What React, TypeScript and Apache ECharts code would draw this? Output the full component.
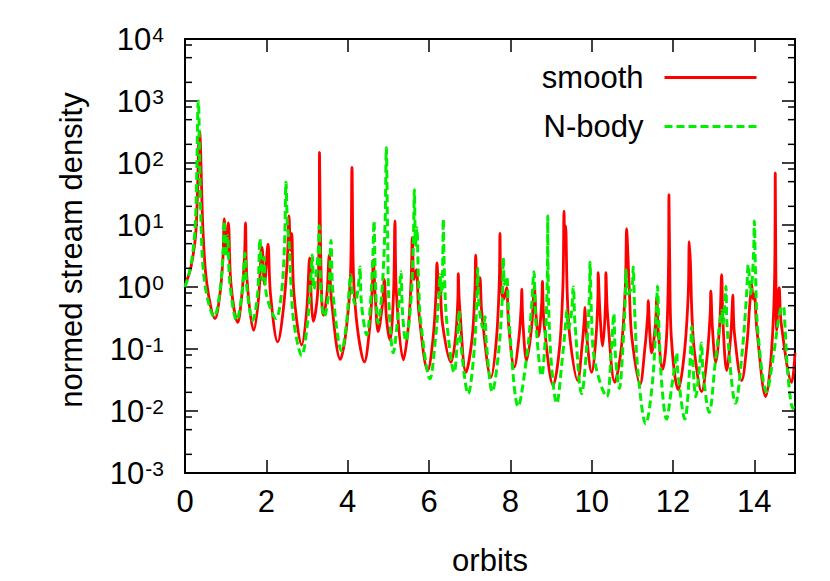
import React, { useEffect, useRef } from 'react';
import * as echarts from 'echarts';

// x range (orbits) and tick step
const xMin = 0;
const xMax = 15;
const xStep = 2;

// y range (log scale), decade exponents for tick labels
const yMin = 0.001;
const yMax = 10000;
const yTickExponents = ['-3', '-2', '-1', '0', '1', '2', '3', '4'];
const yMinorTicks = [
  0.002, 0.005, 0.008, 0.02, 0.05, 0.08, 0.2, 0.5, 0.8, 2, 5, 8, 20, 50, 80,
  200, 500, 800, 2000, 5000, 8000,
];

const seriesNames = ['smooth', 'N-body'];

// smooth model: [orbits, normed stream density]
const smoothPoints: number[][] = [
  [0, 1.06], [0.148, 2.12], [0.27, 8.1], [0.357, 327], [0.443, 8.1], [0.54, 1.1],
  [0.738, 0.31], [0.86, 0.77], [0.934, 3.04], [0.966, 12.5], [1.008, 3.65], [1.065, 10.8],
  [1.131, 1.1], [1.296, 0.268], [1.4, 0.77], [1.463, 3.0], [1.488, 10.8], [1.525, 1.32],
  [1.69, 0.2], [1.807, 0.64], [1.893, 4.4], [1.955, 1.1], [2.041, 4.9], [2.102, 0.77],
  [2.28, 0.13], [2.42, 0.45], [2.52, 3.04], [2.557, 14], [2.594, 3.9], [2.623, 7.3],
  [2.68, 0.77], [2.87, 0.116], [2.99, 0.4], [3.066, 2.94], [3.11, 0.53], [3.155, 0.28],
  [3.26, 0.77], [3.3, 9.7], [3.308, 148], [3.33, 6.76], [3.368, 0.53], [3.405, 0.35],
  [3.49, 0.77], [3.548, 3.27], [3.6, 0.64], [3.82, 0.068], [3.97, 0.216], [4.07, 1.58],
  [4.106, 85], [4.143, 1.58], [4.24, 0.216], [4.41, 0.062], [4.54, 0.216], [4.61, 1.1],
  [4.63, 2.7], [4.675, 0.77], [4.75, 0.19], [4.856, 0.53], [4.9, 1.32], [4.955, 0.31],
  [5.04, 0.14], [5.127, 0.77], [5.163, 11.6], [5.2, 0.77], [5.37, 0.067], [5.5, 0.26],
  [5.565, 1.58], [5.59, 6.3], [5.63, 1.32], [5.69, 1.9], [5.754, 0.37], [5.97, 0.045],
  [6.1, 0.15], [6.172, 0.77], [6.196, 2.45], [6.245, 0.77], [6.27, 1.1], [6.33, 0.26],
  [6.54, 0.061], [6.65, 0.15], [6.71, 0.64], [6.72, 1.64], [6.75, 0.53], [6.91, 0.042],
  [7.06, 0.15], [7.13, 0.92], [7.148, 3.27], [7.19, 0.77], [7.25, 1.42], [7.3, 0.37],
  [7.524, 0.035], [7.66, 0.15], [7.73, 1.32], [7.745, 7.3], [7.77, 1.1], [7.84, 0.64],
  [7.91, 0.98], [7.955, 0.26], [8.097, 0.051], [8.21, 0.15], [8.27, 0.53], [8.28, 0.92],
  [8.31, 0.26], [8.4, 0.065], [8.52, 0.216], [8.575, 0.77], [8.589, 1.03], [8.63, 0.37],
  [8.69, 0.16], [8.77, 0.53], [8.79, 1.23], [8.83, 0.26], [9.055, 0.026], [9.21, 0.105],
  [9.294, 1.1], [9.32, 16.7], [9.34, 4.7], [9.36, 9.7], [9.4, 0.77], [9.466, 0.15],
  [9.655, 0.031], [9.76, 0.105], [9.82, 0.31], [9.835, 0.47], [9.86, 0.216], [10.0, 0.042],
  [10.105, 0.15], [10.155, 0.77], [10.16, 1.7], [10.205, 0.37], [10.27, 0.112], [10.34, 0.53],
  [10.35, 1.7], [10.39, 0.37], [10.57, 0.029], [10.73, 0.105], [10.83, 1.1], [10.86, 8.7],
  [10.89, 3.5], [10.93, 0.77], [10.99, 0.15], [11.19, 0.027], [11.31, 0.105], [11.38, 0.37],
  [11.39, 0.6], [11.43, 0.18], [11.475, 0.087], [11.57, 0.26], [11.6, 0.68], [11.64, 0.18],
  [11.745, 0.047], [11.84, 0.15], [11.89, 2.28], [11.9, 31], [11.92, 2.28], [11.96, 0.15],
  [12.13, 0.022], [12.28, 0.087], [12.375, 0.77], [12.4, 5.4], [12.43, 2.28], [12.465, 0.37],
  [12.53, 0.087], [12.705, 0.0205], [12.835, 0.072], [12.915, 0.37], [12.93, 0.86], [12.97, 0.216],
  [13.05, 0.061], [13.15, 0.26], [13.196, 1.58], [13.23, 0.26], [13.32, 0.045], [13.415, 0.15],
  [13.46, 0.53], [13.47, 0.74], [13.51, 0.18], [13.69, 0.031], [13.82, 0.125], [13.88, 0.45],
  [13.91, 0.77], [13.935, 1.1], [13.97, 0.64], [14.0, 0.77], [14.06, 0.216], [14.28, 0.017],
  [14.42, 0.087], [14.5, 1.58], [14.515, 69], [14.53, 1.58], [14.55, 0.2], [14.59, 0.77],
  [14.61, 0.98], [14.66, 0.26], [14.92, 0.029], [15, 0.087],
];

// N-body simulation: [orbits, normed stream density]
const nbodyPoints: number[][] = [
  [0, 1.0], [0.148, 2.28], [0.258, 11.6], [0.327, 1000], [0.393, 11.6], [0.49, 1.1],
  [0.72, 0.33], [0.85, 0.77], [0.934, 3.27], [0.966, 11.6], [1.008, 3.04], [1.045, 6.76],
  [1.106, 1.1], [1.27, 0.29], [1.4, 0.77], [1.475, 3.5], [1.525, 0.92], [1.665, 0.29],
  [1.785, 0.77], [1.844, 6.0], [1.893, 1.3], [1.942, 3.04], [2.0, 0.77], [2.24, 0.31],
  [2.37, 0.77], [2.447, 4.7], [2.483, 49], [2.52, 9.7], [2.557, 5.6], [2.606, 1.1],
  [2.68, 0.26], [2.87, 0.078], [3.01, 0.26], [3.1, 1.58], [3.13, 3.27], [3.17, 0.92],
  [3.27, 3.27], [3.3, 9.7], [3.34, 0.92], [3.425, 0.33], [3.53, 0.77], [3.59, 5.6],
  [3.64, 0.77], [3.853, 0.093], [3.97, 0.26], [4.045, 1.1], [4.07, 1.58], [4.12, 0.77],
  [4.18, 0.53], [4.28, 1.32], [4.303, 2.1], [4.34, 0.53], [4.47, 0.168], [4.56, 0.53],
  [4.62, 3.27], [4.647, 11.6], [4.685, 1.1], [4.75, 0.26], [4.84, 0.77], [4.918, 9.7],
  [4.95, 177], [4.98, 9.7], [5.016, 0.53], [5.12, 0.087], [5.24, 0.37], [5.31, 1.77],
  [5.35, 0.37], [5.43, 0.134], [5.55, 0.53], [5.614, 4.7], [5.64, 37], [5.67, 4.7],
  [5.7, 9.0], [5.745, 1.1], [5.8, 0.26], [6.024, 0.033], [6.16, 0.15], [6.245, 0.77],
  [6.27, 1.58], [6.31, 0.77], [6.34, 3.27], [6.35, 12.5], [6.38, 1.58], [6.44, 0.26],
  [6.62, 0.042], [6.7, 0.15], [6.74, 0.42], [6.77, 0.15], [6.966, 0.019], [7.106, 0.087],
  [7.18, 0.77], [7.197, 2.0], [7.23, 0.53], [7.33, 0.216], [7.376, 0.33], [7.41, 0.125],
  [7.556, 0.0205], [7.71, 0.087], [7.807, 0.77], [7.826, 2.94], [7.86, 1.1], [7.91, 1.47],
  [7.97, 0.26], [8.195, 0.0118], [8.385, 0.061], [8.51, 0.37], [8.58, 1.77], [8.63, 0.26],
  [8.77, 0.037], [8.86, 0.15], [8.91, 1.58], [8.92, 14], [8.93, 1.58], [8.99, 0.087],
  [9.14, 0.0133], [9.28, 0.072], [9.37, 0.31], [9.385, 0.42], [9.43, 0.216], [9.5, 0.37],
  [9.55, 1.0], [9.59, 0.26], [9.754, 0.019], [9.885, 0.125], [9.945, 0.77], [9.96, 2.5],
  [9.995, 0.37], [10.08, 0.061], [10.37, 0.017], [10.48, 0.087], [10.545, 0.37], [10.58, 0.087],
  [10.68, 0.023], [10.78, 0.15], [10.83, 0.77], [10.84, 1.9], [10.9, 0.77], [11.0, 1.1],
  [11.02, 2.1], [11.06, 0.37], [11.14, 0.042], [11.33, 0.0062], [11.495, 0.029], [11.59, 0.37],
  [11.62, 1.03], [11.65, 0.26], [11.72, 0.029], [11.84, 0.0074], [11.97, 0.025], [12.07, 0.072],
  [12.09, 0.087], [12.12, 0.042], [12.29, 0.0074], [12.42, 0.061], [12.46, 0.23], [12.49, 0.061],
  [12.56, 0.017], [12.66, 0.061], [12.7, 0.125], [12.74, 0.042], [12.89, 0.0095], [13.04, 0.061],
  [13.15, 0.26], [13.2, 0.42], [13.23, 0.26], [13.29, 0.77], [13.3, 1.03], [13.34, 0.18],
  [13.54, 0.0133], [13.7, 0.087], [13.81, 0.77], [13.85, 2.28], [13.91, 0.77], [13.98, 3.27],
  [14.0, 11.6], [14.03, 1.58], [14.09, 0.18], [14.3, 0.0205], [14.48, 0.087], [14.58, 0.26],
  [14.65, 0.45], [14.71, 0.49], [14.75, 0.26], [14.82, 0.042], [14.95, 0.011], [15, 0.014],
];

const FONT = 'Liberation Sans, Arial, Helvetica, sans-serif';

export default function App() {
  const ref = useRef<HTMLDivElement>(null);

  useEffect(() => {
    if (!ref.current) return;
    const chart = echarts.init(ref.current, undefined, { renderer: 'svg' });

    const axisLine = { show: true, onZero: false, lineStyle: { color: '#000', width: 2 } };
    const majorTick = { show: true, inside: true, length: 13, lineStyle: { color: '#000', width: 1.5 } };

    const option: any = {
      animation: false,
      backgroundColor: '#fff',
      textStyle: { fontFamily: FONT },
      grid: { left: 185, right: 35, top: 39, bottom: 97, containLabel: false },
      legend: {
        data: seriesNames,
        orient: 'vertical',
        right: 67,
        top: 57,
        align: 'right',
        itemWidth: 92,
        itemHeight: 14,
        itemGap: 18,
        selectedMode: false,
        itemStyle: { opacity: 0 },
        lineStyle: { width: 3 },
        textStyle: { fontSize: 31, color: '#000', fontFamily: FONT, padding: [0, 16, 0, 0] },
      },
      xAxis: [
        {
          type: 'value',
          min: xMin,
          max: xMax,
          interval: xStep,
          position: 'bottom',
          axisLine,
          axisTick: majorTick,
          splitLine: { show: false },
          axisLabel: { fontSize: 31, color: '#000', margin: 13, fontFamily: FONT, showMaxLabel: false },
          name: 'orbits',
          nameLocation: 'middle',
          nameGap: 72,
          nameTextStyle: { fontSize: 31, color: '#000', fontFamily: FONT },
        },
        {
          type: 'value',
          min: xMin,
          max: xMax,
          interval: xStep,
          position: 'top',
          axisLine,
          axisTick: majorTick,
          splitLine: { show: false },
          axisLabel: { show: false },
        },
      ],
      yAxis: [
        {
          type: 'log',
          logBase: 10,
          min: yMin,
          max: yMax,
          interval: 1,
          position: 'left',
          axisLine,
          axisTick: majorTick,
          splitLine: { show: false },
          minorTick: { show: false },
          axisLabel: {
            margin: 21,
            color: '#000',
            formatter: (v: number) => {
              const i = Math.round(Math.log10(v)) + 3;
              return `{b|10}{s|${yTickExponents[i]}}`;
            },
            rich: {
              b: { fontSize: 31, fontFamily: FONT, color: '#000', lineHeight: 31, verticalAlign: 'bottom' },
              s: {
                fontSize: 21,
                fontFamily: FONT,
                color: '#000',
                lineHeight: 21,
                verticalAlign: 'top',
                padding: [0, 0, 16, 1],
              },
            },
          },
          name: 'normed stream density',
          nameLocation: 'middle',
          nameGap: 98,
          nameTextStyle: { fontSize: 31, color: '#000', fontFamily: FONT, padding: [0, 0, 0, 12] },
        },
        {
          type: 'log',
          logBase: 10,
          min: yMin,
          max: yMax,
          interval: 1,
          position: 'right',
          axisLine,
          axisTick: majorTick,
          splitLine: { show: false },
          axisLabel: { show: false },
        },
      ],
      series: [
        {
          name: 'smooth',
          type: 'line',
          data: smoothPoints,
          xAxisIndex: 0,
          yAxisIndex: 0,
          symbol: 'none',
          showSymbol: false,
          smooth: 0.35,
          lineStyle: { color: '#ff0000', width: 2.8 },
          itemStyle: { color: '#ff0000' },
          z: 2,
        },
        {
          name: 'N-body',
          type: 'line',
          data: nbodyPoints,
          xAxisIndex: 0,
          yAxisIndex: 0,
          symbol: 'none',
          showSymbol: false,
          smooth: 0.35,
          lineStyle: { color: '#00ee00', width: 3, type: [8, 4] },
          itemStyle: { color: '#00ee00' },
          z: 3,
        },
        {
          name: 'minor ticks',
          type: 'custom',
          xAxisIndex: 0,
          yAxisIndex: 0,
          silent: true,
          clip: false,
          z: 10,
          data: yMinorTicks.map((v) => [xMin, v]),
          renderItem: (_params: any, api: any) => {
            const v = api.value(1);
            const l = api.coord([xMin, v]);
            const r = api.coord([xMax, v]);
            const st = { stroke: '#000', lineWidth: 1.5 };
            return {
              type: 'group',
              children: [
                { type: 'line', shape: { x1: l[0], y1: l[1], x2: l[0] + 7, y2: l[1] }, style: st },
                { type: 'line', shape: { x1: r[0] - 7, y1: r[1], x2: r[0], y2: r[1] }, style: st },
              ],
            };
          },
        },
      ],
    };

    chart.setOption(option);
    return () => chart.dispose();
  }, []);

  return (
    <div
      ref={ref}
      style={{ position: 'absolute', left: 0, top: 0, width: 830, height: 581, background: '#fff' }}
    />
  );
}
